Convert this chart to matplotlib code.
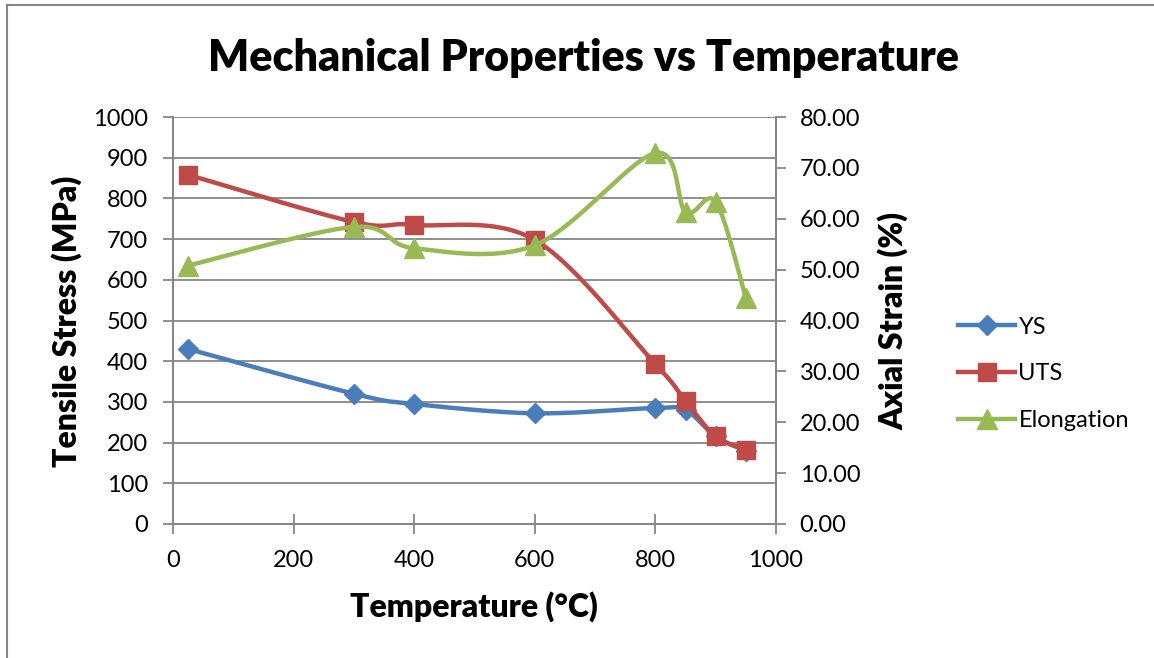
import matplotlib.pyplot as plt
import numpy as np
from matplotlib.lines import Line2D

plt.rcParams['font.family'] = ['Lato', 'DejaVu Sans']

# data
temp = [25, 300, 400, 600, 800, 850, 900, 950]
ys = [430, 320, 295, 272, 285, 280, 215, 180]
uts = [858, 742, 735, 698, 393, 302, 215, 183]
elong = [50.8, 58.4, 54.2, 54.8, 72.9, 61.3, 63.3, 44.4]

c_ys = '#4a7ebb'
c_uts = '#be4b48'
c_el = '#98b954'
grid_c = '#868686'


def smooth(x, y, n=30):
    # excel-like smoothed line (catmull-rom through the points)
    x = np.asarray(x, float)
    y = np.asarray(y, float)
    px = np.concatenate([[x[0]], x, [x[-1]]])
    py = np.concatenate([[y[0]], y, [y[-1]]])
    xs, yy = [], []
    t = np.linspace(0, 1, n)
    for i in range(1, len(px) - 2):
        p0, p1, p2, p3 = px[i-1], px[i], px[i+1], px[i+2]
        q0, q1, q2, q3 = py[i-1], py[i], py[i+1], py[i+2]
        c1x = p1 + (p2 - p0) / 6
        c2x = p2 - (p3 - p1) / 6
        c1y = q1 + (q2 - q0) / 6
        c2y = q2 - (q3 - q1) / 6
        bx = (1-t)**3*p1 + 3*(1-t)**2*t*c1x + 3*(1-t)*t**2*c2x + t**3*p2
        by = (1-t)**3*q1 + 3*(1-t)**2*t*c1y + 3*(1-t)*t**2*c2y + t**3*q2
        xs.extend(bx)
        yy.extend(by)
    return xs, yy


fig = plt.figure(figsize=(11.54, 6.58), dpi=100)
W, H = 1154, 658
ax = fig.add_axes([173/W, 1-524/H, (776-173)/W, (524-117)/H])
ax2 = ax.twinx()

ax.set_xlim(0, 1000)
ax.set_ylim(0, 1000)
ax2.set_ylim(0, 80)
ax.set_xticks(range(0, 1001, 200))
ax.set_yticks(range(0, 1001, 100))
ax2.set_yticks(range(0, 81, 10))
ax2.set_yticklabels(['%.2f' % v for v in range(0, 81, 10)])

ax.grid(axis='y', color=grid_c, linewidth=1.3)
ax.set_axisbelow(True)
for a in (ax, ax2):
    a.spines['top'].set_visible(False)
    for s in ['left', 'right', 'bottom']:
        a.spines[s].set_color(grid_c)
        a.spines[s].set_linewidth(1.3)
    a.tick_params(colors=grid_c, labelcolor='black', labelsize=17, width=1.3, length=7)
ax.tick_params(axis='x', direction='inout', length=14, pad=12)
ax.tick_params(axis='y', pad=11)
ax2.tick_params(axis='y', pad=10)

sx, sy = smooth(temp, ys)
ax.plot(sx, sy, color=c_ys, lw=3.2, zorder=3)
ax.plot(temp, ys, ls='none', marker='D', ms=10, color=c_ys, zorder=4)
sx, sy = smooth(temp, uts)
ax.plot(sx, sy, color=c_uts, lw=3.2, zorder=5)
ax.plot(temp, uts, ls='none', marker='s', ms=13, color=c_uts, zorder=6)
sx, sy = smooth(temp, elong)
ax2.plot(sx, sy, color=c_el, lw=3.2, zorder=3)
ax2.plot(temp, elong, ls='none', marker='^', ms=14, color=c_el, zorder=4)

fig.text(474/W, 1-607/H, 'Temperature (°C)', fontsize=23, fontweight='heavy',
         ha='center', va='center')
fig.text(67/W, 1-321/H, 'Tensile Stress (MPa)', fontsize=23, fontweight='heavy',
         ha='center', va='center', rotation=90)
fig.text(893/W, 1-321/H, 'Axial Strain (%)', fontsize=23, fontweight='heavy',
         ha='center', va='center', rotation=90)
fig.text(583/W, 1-58/H, 'Mechanical Properties vs Temperature', fontsize=31,
         fontweight='heavy', ha='center', va='center')

handles = [Line2D([], [], color=c_ys, lw=3.2, marker='D', ms=10),
           Line2D([], [], color=c_uts, lw=3.2, marker='s', ms=13),
           Line2D([], [], color=c_el, lw=3.2, marker='^', ms=14)]
fig.legend(handles, ['YS', 'UTS', 'Elongation'], loc='center left',
           bbox_to_anchor=(937/W, 1-374/H), frameon=False, fontsize=17,
           handlelength=2.4, handletextpad=0.15, labelspacing=1.1)

# chart frame (left and top edges visible)
fig.add_artist(Line2D([7/W, 7/W], [0, 1-5/H], color=grid_c, lw=1.5))
fig.add_artist(Line2D([7/W, 1], [1-5/H, 1-5/H], color=grid_c, lw=1.5))

fig.savefig('out.png', dpi=100)
